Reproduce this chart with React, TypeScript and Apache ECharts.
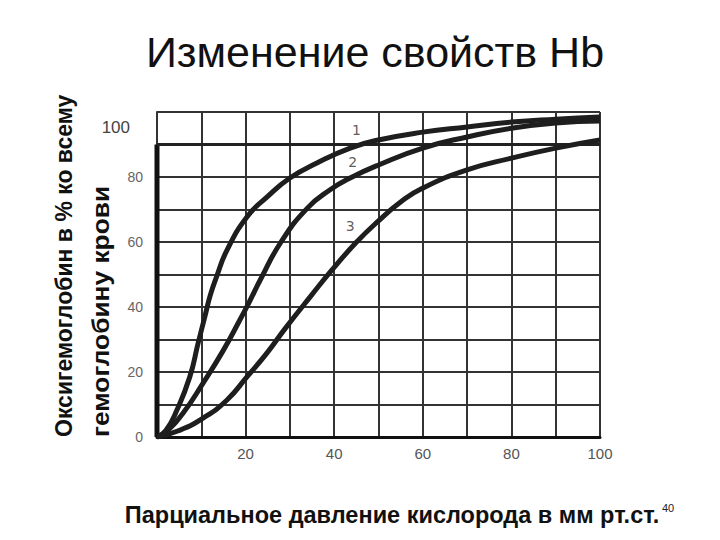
import React, { useEffect, useRef } from "react";
import * as echarts from "echarts";

const curve1: [number, number][] = [
  [0, 0], [2, 2], [4.5, 8.3], [7.4, 18.5], [9.3, 29], [10.8, 37], [12, 43.5], [13.5, 49.5],
  [15.8, 57.5], [20.3, 67.7], [24.8, 73.8], [30, 79.7], [36.1, 84.3], [43.6, 88.9],
  [50, 91.4], [60, 93.8], [70, 95.4], [80, 96.9], [90, 97.8], [100, 98.5],
];
const curve2: [number, number][] = [
  [0, 0], [2, 1.5], [5.9, 7.4], [10.4, 16.6], [14.9, 26.5], [18.7, 36], [21, 42],
  [23.3, 48.3], [28, 60], [34, 70.5], [39, 76], [43.6, 79.7], [50, 83.7], [60, 88.9],
  [70, 92.3], [80, 95], [90, 96.6], [100, 97.2],
];
const curve3: [number, number][] = [
  [0, 0], [5, 2], [10.4, 5.8], [15.8, 11.4], [20.3, 18.5], [24.8, 25.8], [29, 33.5],
  [34.8, 43.5], [39.5, 51.4], [45, 59.9], [50, 66.5], [55, 72.3], [60, 76.6], [70, 82.2],
  [80, 85.8], [90, 88.9], [100, 91.4],
];
const curveLabels = [
  { name: "1", value: [45, 94.5] },
  { name: "2", value: [44.2, 84.6] },
  { name: "3", value: [43.6, 65] },
];
const leftThickAxis: [number, number][] = [[0, 0], [0, 90]];
const thickLine90: [number, number][] = [[0, 90], [100, 90]];
const xTickLabels = [20, 40, 60, 80, 100];
const yTickLabels = [0, 20, 40, 60, 80, 100];

const title = "Изменение свойств Hb";
const yTitle1 = "Оксигемоглобин в % ко всему";
const yTitle2 = "гемоглобину крови";
const xTitle = "Парциальное давление кислорода в мм рт.ст.";
const slideNo = "40";

export default function App() {
  const ref = useRef<HTMLDivElement>(null);
  useEffect(() => {
    if (!ref.current) return;
    const chart = echarts.init(ref.current, null, { renderer: "svg" });
    const curveStyle = { color: "#1e1e1e", width: 5 };
    chart.setOption({
      animation: false,
      backgroundColor: "#ffffff",
      grid: { left: 157, right: 120, top: 112, bottom: 103 },
      xAxis: {
        type: "value",
        min: 0,
        max: 100,
        interval: 10,
        axisLine: { show: true, onZero: false, lineStyle: { color: "#111", width: 3 } },
        axisTick: { show: false },
        splitLine: { show: true, lineStyle: { color: "#333", width: 2 } },
        axisLabel: {
          margin: 9,
          color: "#555",
          fontFamily: "Liberation Sans",
          fontSize: 15,
          formatter: (v: number) => (xTickLabels.includes(v) ? String(v) : ""),
        },
      },
      yAxis: {
        type: "value",
        min: 0,
        max: 100,
        interval: 10,
        axisLine: { show: true, lineStyle: { color: "#333", width: 2 } },
        axisTick: { show: false },
        splitLine: { show: true, lineStyle: { color: "#333", width: 2 } },
        axisLabel: {
          margin: 14,
          color: "#666",
          fontFamily: "Liberation Sans",
          fontSize: 14,
          formatter: (v: number) =>
            v === 100 ? "{top|100}" : yTickLabels.includes(v) ? String(v) : "",
          rich: {
            top: {
              color: "#444",
              fontSize: 17,
              fontFamily: "Liberation Sans",
              padding: [30, 13, 0, 0],
            },
          },
        },
      },
      graphic: [
        {
          type: "text",
          x: 375,
          y: 52,
          style: {
            text: title,
            font: '43px "Liberation Sans"',
            fill: "#111",
            textAlign: "center",
            textVerticalAlign: "middle",
            shadowColor: "rgba(0,0,0,0.45)",
            shadowOffsetX: 2,
            shadowOffsetY: 2,
            shadowBlur: 1,
          },
        },
        {
          type: "text",
          x: 64,
          y: 437,
          rotation: Math.PI / 2,
          style: {
            text: yTitle1,
            font: 'bold 23px "Liberation Sans"',
            fill: "#111",
            textAlign: "left",
            textVerticalAlign: "middle",
          },
        },
        {
          type: "text",
          x: 101,
          y: 437,
          rotation: Math.PI / 2,
          scaleX: 1.12,
          style: {
            text: yTitle2,
            font: 'bold 23.5px "Liberation Sans"',
            fill: "#111",
            textAlign: "left",
            textVerticalAlign: "middle",
          },
        },
        {
          type: "text",
          x: 392,
          y: 515,
          style: {
            text: xTitle,
            font: 'bold 23.5px "Liberation Sans"',
            fill: "#111",
            textAlign: "center",
            textVerticalAlign: "middle",
          },
        },
        {
          type: "text",
          x: 668,
          y: 508,
          style: {
            text: slideNo,
            font: '11px "Liberation Sans"',
            fill: "#222",
            textAlign: "center",
            textVerticalAlign: "middle",
          },
        },
      ],
      series: [
        {
          type: "line",
          data: leftThickAxis,
          symbol: "none",
          lineStyle: { color: "#111", width: 5 },
          silent: true,
        },
        {
          type: "line",
          data: thickLine90,
          symbol: "none",
          lineStyle: { color: "#222", width: 3 },
          silent: true,
        },
        { type: "line", data: curve1, symbol: "none", smooth: 0.5, lineStyle: curveStyle },
        { type: "line", data: curve2, symbol: "none", smooth: 0.5, lineStyle: curveStyle },
        { type: "line", data: curve3, symbol: "none", smooth: 0.5, lineStyle: curveStyle },
        {
          type: "scatter",
          data: curveLabels,
          symbolSize: 0,
          label: {
            show: true,
            position: "inside",
            formatter: (p: any) => p.name,
            color: "#333",
            fontSize: 14,
            fontFamily: "DejaVu Sans",
          },
          silent: true,
        },
      ],
    });
    return () => chart.dispose();
  }, []);
  return (
    <div
      ref={ref}
      style={{ position: "fixed", left: 0, top: 0, width: 720, height: 540, background: "#fff" }}
    />
  );
}
